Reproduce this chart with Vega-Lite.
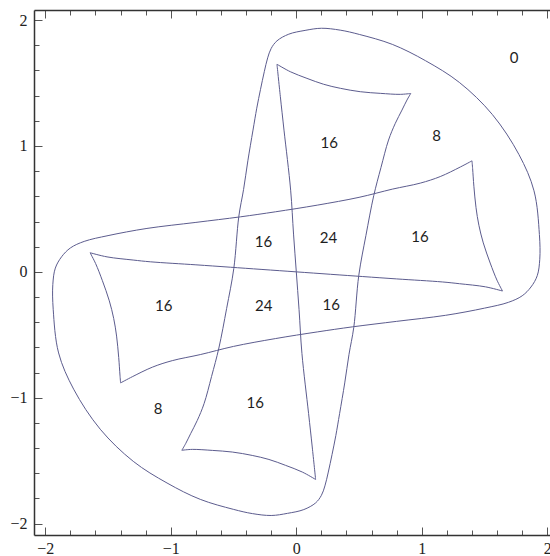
{
  "$schema": "https://vega.github.io/schema/vega-lite/v6.json",
  "autosize": "none",
  "width": 516,
  "height": 525,
  "padding": {"left": 34, "top": 10, "right": 0, "bottom": 21},
  "background": "white",
  "config": {"view": {"stroke": null}},
  "datasets": {
    "curves": [
      {"seg": "Q", "i": 0, "x": 0.912, "y": 1.417},
      {"seg": "Q", "i": 1, "x": 0.882, "y": 1.365},
      {"seg": "Q", "i": 2, "x": 0.842, "y": 1.285},
      {"seg": "Q", "i": 3, "x": 0.789, "y": 1.18},
      {"seg": "Q", "i": 4, "x": 0.735, "y": 1.047},
      {"seg": "Q", "i": 5, "x": 0.675, "y": 0.83},
      {"seg": "Q", "i": 6, "x": 0.617, "y": 0.605},
      {"seg": "Q", "i": 7, "x": 0.555, "y": 0.29},
      {"seg": "Q", "i": 8, "x": 0.498, "y": -0.027},
      {"seg": "Q", "i": 9, "x": 0.458, "y": -0.441},
      {"seg": "Q", "i": 10, "x": 0.42, "y": -0.655},
      {"seg": "Q", "i": 11, "x": 0.386, "y": -0.882},
      {"seg": "Q", "i": 12, "x": 0.345, "y": -1.126},
      {"seg": "Q", "i": 13, "x": 0.315, "y": -1.3},
      {"seg": "Q", "i": 14, "x": 0.285, "y": -1.45},
      {"seg": "Q", "i": 15, "x": 0.255, "y": -1.59},
      {"seg": "Q", "i": 16, "x": 0.228, "y": -1.7},
      {"seg": "Q", "i": 17, "x": 0.2, "y": -1.775},
      {"seg": "Q", "i": 18, "x": 0.154, "y": -1.835},
      {"seg": "Q", "i": 19, "x": 0.06, "y": -1.888},
      {"seg": "Q", "i": 20, "x": -0.07, "y": -1.918},
      {"seg": "Q", "i": 21, "x": -0.2, "y": -1.935},
      {"seg": "Q", "i": 22, "x": -0.35, "y": -1.92},
      {"seg": "Q", "i": 23, "x": -0.502, "y": -1.886},
      {"seg": "Q", "i": 24, "x": -0.765, "y": -1.807},
      {"seg": "Q", "i": 25, "x": -1.03, "y": -1.677},
      {"seg": "Q", "i": 26, "x": -1.299, "y": -1.505},
      {"seg": "Q", "i": 27, "x": -1.562, "y": -1.25},
      {"seg": "Q", "i": 28, "x": -1.774, "y": -0.932},
      {"seg": "Q", "i": 29, "x": -1.894, "y": -0.644},
      {"seg": "Q", "i": 30, "x": -1.937, "y": -0.297},
      {"seg": "Q", "i": 31, "x": -1.94, "y": -0.1},
      {"seg": "Q", "i": 32, "x": -1.92, "y": 0.03},
      {"seg": "Q", "i": 33, "x": -1.87, "y": 0.12},
      {"seg": "Q", "i": 34, "x": -1.8, "y": 0.19},
      {"seg": "Q", "i": 35, "x": -1.69, "y": 0.242},
      {"seg": "Q", "i": 36, "x": -1.5, "y": 0.288},
      {"seg": "Q", "i": 37, "x": -1.19, "y": 0.345},
      {"seg": "Q", "i": 38, "x": -0.8, "y": 0.393},
      {"seg": "Q", "i": 39, "x": -0.446, "y": 0.437},
      {"seg": "Q", "i": 40, "x": -0.167, "y": 0.477},
      {"seg": "Q", "i": 41, "x": 0.167, "y": 0.53},
      {"seg": "Q", "i": 42, "x": 0.5, "y": 0.592},
      {"seg": "Q", "i": 43, "x": 0.765, "y": 0.657},
      {"seg": "Q", "i": 44, "x": 0.988, "y": 0.705},
      {"seg": "Q", "i": 45, "x": 1.147, "y": 0.757},
      {"seg": "Q", "i": 46, "x": 1.307, "y": 0.833},
      {"seg": "Q", "i": 47, "x": 1.4, "y": 0.882},

      {"seg": "Qo", "i": 0, "x": -0.912, "y": -1.417},
      {"seg": "Qo", "i": 1, "x": -0.882, "y": -1.365},
      {"seg": "Qo", "i": 2, "x": -0.842, "y": -1.285},
      {"seg": "Qo", "i": 3, "x": -0.789, "y": -1.18},
      {"seg": "Qo", "i": 4, "x": -0.735, "y": -1.047},
      {"seg": "Qo", "i": 5, "x": -0.675, "y": -0.83},
      {"seg": "Qo", "i": 6, "x": -0.617, "y": -0.605},
      {"seg": "Qo", "i": 7, "x": -0.555, "y": -0.29},
      {"seg": "Qo", "i": 8, "x": -0.498, "y": 0.027},
      {"seg": "Qo", "i": 9, "x": -0.458, "y": 0.441},
      {"seg": "Qo", "i": 10, "x": -0.42, "y": 0.655},
      {"seg": "Qo", "i": 11, "x": -0.386, "y": 0.882},
      {"seg": "Qo", "i": 12, "x": -0.345, "y": 1.126},
      {"seg": "Qo", "i": 13, "x": -0.315, "y": 1.3},
      {"seg": "Qo", "i": 14, "x": -0.285, "y": 1.45},
      {"seg": "Qo", "i": 15, "x": -0.255, "y": 1.59},
      {"seg": "Qo", "i": 16, "x": -0.228, "y": 1.7},
      {"seg": "Qo", "i": 17, "x": -0.2, "y": 1.775},
      {"seg": "Qo", "i": 18, "x": -0.154, "y": 1.835},
      {"seg": "Qo", "i": 19, "x": -0.06, "y": 1.888},
      {"seg": "Qo", "i": 20, "x": 0.07, "y": 1.918},
      {"seg": "Qo", "i": 21, "x": 0.2, "y": 1.935},
      {"seg": "Qo", "i": 22, "x": 0.35, "y": 1.92},
      {"seg": "Qo", "i": 23, "x": 0.502, "y": 1.886},
      {"seg": "Qo", "i": 24, "x": 0.765, "y": 1.807},
      {"seg": "Qo", "i": 25, "x": 1.03, "y": 1.677},
      {"seg": "Qo", "i": 26, "x": 1.299, "y": 1.505},
      {"seg": "Qo", "i": 27, "x": 1.562, "y": 1.25},
      {"seg": "Qo", "i": 28, "x": 1.774, "y": 0.932},
      {"seg": "Qo", "i": 29, "x": 1.894, "y": 0.644},
      {"seg": "Qo", "i": 30, "x": 1.937, "y": 0.297},
      {"seg": "Qo", "i": 31, "x": 1.94, "y": 0.1},
      {"seg": "Qo", "i": 32, "x": 1.92, "y": -0.03},
      {"seg": "Qo", "i": 33, "x": 1.87, "y": -0.12},
      {"seg": "Qo", "i": 34, "x": 1.8, "y": -0.19},
      {"seg": "Qo", "i": 35, "x": 1.69, "y": -0.242},
      {"seg": "Qo", "i": 36, "x": 1.5, "y": -0.288},
      {"seg": "Qo", "i": 37, "x": 1.19, "y": -0.345},
      {"seg": "Qo", "i": 38, "x": 0.8, "y": -0.393},
      {"seg": "Qo", "i": 39, "x": 0.446, "y": -0.437},
      {"seg": "Qo", "i": 40, "x": 0.167, "y": -0.477},
      {"seg": "Qo", "i": 41, "x": -0.167, "y": -0.53},
      {"seg": "Qo", "i": 42, "x": -0.5, "y": -0.592},
      {"seg": "Qo", "i": 43, "x": -0.765, "y": -0.657},
      {"seg": "Qo", "i": 44, "x": -0.988, "y": -0.705},
      {"seg": "Qo", "i": 45, "x": -1.147, "y": -0.757},
      {"seg": "Qo", "i": 46, "x": -1.307, "y": -0.833},
      {"seg": "Qo", "i": 47, "x": -1.4, "y": -0.882},

      {"seg": "P1", "i": 0, "x": -0.154, "y": 1.649},
      {"seg": "P1", "i": 1, "x": -0.127, "y": 1.391},
      {"seg": "P1", "i": 2, "x": -0.098, "y": 1.126},
      {"seg": "P1", "i": 3, "x": -0.045, "y": 0.649},
      {"seg": "P1", "i": 4, "x": -0.022, "y": 0.3},
      {"seg": "P1", "i": 5, "x": 0.0, "y": 0.0},
      {"seg": "P1", "i": 6, "x": 0.022, "y": -0.3},
      {"seg": "P1", "i": 7, "x": 0.045, "y": -0.649},
      {"seg": "P1", "i": 8, "x": 0.098, "y": -1.126},
      {"seg": "P1", "i": 9, "x": 0.127, "y": -1.391},
      {"seg": "P1", "i": 10, "x": 0.154, "y": -1.649},

      {"seg": "P1h", "i": 0, "x": -1.643, "y": 0.152},
      {"seg": "P1h", "i": 1, "x": -1.508, "y": 0.119},
      {"seg": "P1h", "i": 2, "x": -1.3, "y": 0.094},
      {"seg": "P1h", "i": 3, "x": -1.163, "y": 0.08},
      {"seg": "P1h", "i": 4, "x": -0.8, "y": 0.056},
      {"seg": "P1h", "i": 5, "x": -0.526, "y": 0.037},
      {"seg": "P1h", "i": 6, "x": 0.0, "y": 0.0},
      {"seg": "P1h", "i": 7, "x": 0.526, "y": -0.037},
      {"seg": "P1h", "i": 8, "x": 0.8, "y": -0.056},
      {"seg": "P1h", "i": 9, "x": 1.163, "y": -0.08},
      {"seg": "P1h", "i": 10, "x": 1.3, "y": -0.094},
      {"seg": "P1h", "i": 11, "x": 1.508, "y": -0.119},
      {"seg": "P1h", "i": 12, "x": 1.643, "y": -0.152},

      {"seg": "P2", "i": 0, "x": -0.154, "y": 1.649},
      {"seg": "P2", "i": 1, "x": -0.048, "y": 1.59},
      {"seg": "P2", "i": 2, "x": 0.085, "y": 1.537},
      {"seg": "P2", "i": 3, "x": 0.218, "y": 1.49},
      {"seg": "P2", "i": 4, "x": 0.351, "y": 1.458},
      {"seg": "P2", "i": 5, "x": 0.51, "y": 1.431},
      {"seg": "P2", "i": 6, "x": 0.669, "y": 1.418},
      {"seg": "P2", "i": 7, "x": 0.829, "y": 1.41},
      {"seg": "P2", "i": 8, "x": 0.912, "y": 1.417},

      {"seg": "P2o", "i": 0, "x": 0.154, "y": -1.649},
      {"seg": "P2o", "i": 1, "x": 0.048, "y": -1.59},
      {"seg": "P2o", "i": 2, "x": -0.085, "y": -1.537},
      {"seg": "P2o", "i": 3, "x": -0.218, "y": -1.49},
      {"seg": "P2o", "i": 4, "x": -0.351, "y": -1.458},
      {"seg": "P2o", "i": 5, "x": -0.51, "y": -1.431},
      {"seg": "P2o", "i": 6, "x": -0.669, "y": -1.418},
      {"seg": "P2o", "i": 7, "x": -0.829, "y": -1.41},
      {"seg": "P2o", "i": 8, "x": -0.912, "y": -1.417},

      {"seg": "P2h", "i": 0, "x": 1.643, "y": -0.152},
      {"seg": "P2h", "i": 1, "x": 1.599, "y": -0.066},
      {"seg": "P2h", "i": 2, "x": 1.545, "y": 0.07},
      {"seg": "P2h", "i": 3, "x": 1.49, "y": 0.23},
      {"seg": "P2h", "i": 4, "x": 1.455, "y": 0.37},
      {"seg": "P2h", "i": 5, "x": 1.432, "y": 0.51},
      {"seg": "P2h", "i": 6, "x": 1.415, "y": 0.68},
      {"seg": "P2h", "i": 7, "x": 1.405, "y": 0.82},
      {"seg": "P2h", "i": 8, "x": 1.4, "y": 0.882},

      {"seg": "P2ho", "i": 0, "x": -1.643, "y": 0.152},
      {"seg": "P2ho", "i": 1, "x": -1.599, "y": 0.066},
      {"seg": "P2ho", "i": 2, "x": -1.545, "y": -0.07},
      {"seg": "P2ho", "i": 3, "x": -1.49, "y": -0.23},
      {"seg": "P2ho", "i": 4, "x": -1.455, "y": -0.37},
      {"seg": "P2ho", "i": 5, "x": -1.432, "y": -0.51},
      {"seg": "P2ho", "i": 6, "x": -1.415, "y": -0.68},
      {"seg": "P2ho", "i": 7, "x": -1.405, "y": -0.82},
      {"seg": "P2ho", "i": 8, "x": -1.4, "y": -0.882}
    ],
    "regions": [
      {"x": 1.735, "y": 1.699, "t": "0"},
      {"x": 1.118, "y": 1.081, "t": "8"},
      {"x": 0.263, "y": 1.023, "t": "16"},
      {"x": -0.261, "y": 0.241, "t": "16"},
      {"x": 0.257, "y": 0.268, "t": "24"},
      {"x": 0.986, "y": 0.276, "t": "16"},
      {"x": -1.057, "y": -0.27, "t": "16"},
      {"x": -0.26, "y": -0.27, "t": "24"},
      {"x": 0.279, "y": -0.265, "t": "16"},
      {"x": -1.102, "y": -1.091, "t": "8"},
      {"x": -0.327, "y": -1.039, "t": "16"}
    ]
  },
  "layer": [
    {
      "data": {"name": "curves"},
      "mark": {"type": "line", "stroke": "#5c5c8e", "strokeWidth": 1, "interpolate": "catmull-rom"},
      "encoding": {
        "x": {
          "field": "x", "type": "quantitative",
          "scale": {"domain": [-2.09, 2.0215], "nice": false, "zero": false},
          "axis": {
            "orient": "bottom", "title": null, "grid": false,
            "values": [-2, -1.8, -1.6, -1.4, -1.2, -1, -0.8, -0.6, -0.4, -0.2, 0, 0.2, 0.4, 0.6, 0.8, 1, 1.2, 1.4, 1.6, 1.8, 2],
            "domainColor": "#333", "domainWidth": 1.5,
            "tickColor": "#555", "tickWidth": 1,
            "tickSize": {"condition": {"test": "abs(datum.value - round(datum.value)) < 0.001", "value": -8}, "value": -5},
            "labelExpr": "abs(datum.value - round(datum.value)) < 0.001 ? format(round(datum.value), 'd') : ''",
            "labelFont": "Liberation Serif", "labelFontSize": 16, "labelColor": "#222",
            "labelPadding": 13, "labelFlush": false, "labelOverlap": false, "labelBound": false
          }
        },
        "y": {
          "field": "y", "type": "quantitative",
          "scale": {"domain": [-2.09, 2.08], "nice": false, "zero": false},
          "axis": {
            "orient": "left", "title": null, "grid": false,
            "values": [-2, -1.8, -1.6, -1.4, -1.2, -1, -0.8, -0.6, -0.4, -0.2, 0, 0.2, 0.4, 0.6, 0.8, 1, 1.2, 1.4, 1.6, 1.8, 2],
            "domainColor": "#333", "domainWidth": 1.5,
            "tickColor": "#555", "tickWidth": 1,
            "tickSize": {"condition": {"test": "abs(datum.value - round(datum.value)) < 0.001", "value": -8}, "value": -5},
            "labelExpr": "abs(datum.value - round(datum.value)) < 0.001 ? format(round(datum.value), 'd') : ''",
            "labelFont": "Liberation Serif", "labelFontSize": 16, "labelColor": "#222",
            "labelPadding": 15, "labelFlush": false, "labelOverlap": false, "labelBound": false
          }
        },
        "detail": {"field": "seg", "type": "nominal"},
        "order": {"field": "i", "type": "quantitative"}
      }
    },
    {
      "data": {"name": "regions"},
      "mark": {"type": "text", "font": "Lato", "fontSize": 15, "color": "#1e1e1e", "align": "center", "baseline": "middle"},
      "encoding": {
        "x": {
          "field": "x", "type": "quantitative",
          "axis": {
            "orient": "top", "title": null, "grid": false, "labels": false,
            "values": [-2, -1.8, -1.6, -1.4, -1.2, -1, -0.8, -0.6, -0.4, -0.2, 0, 0.2, 0.4, 0.6, 0.8, 1, 1.2, 1.4, 1.6, 1.8, 2],
            "domainColor": "#333", "domainWidth": 1.5,
            "tickColor": "#555", "tickWidth": 1,
            "tickSize": {"condition": {"test": "abs(datum.value - round(datum.value)) < 0.001", "value": -8}, "value": -5}
          }
        },
        "y": {"field": "y", "type": "quantitative", "axis": null},
        "text": {"field": "t", "type": "nominal"}
      }
    }
  ],
  "resolve": {"axis": {"x": "independent", "y": "independent"}}
}
